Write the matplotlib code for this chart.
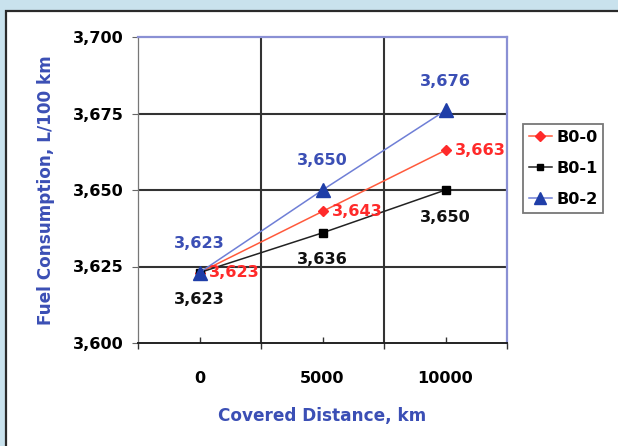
import matplotlib
matplotlib.use("Agg")
import matplotlib.pyplot as plt
from matplotlib.patches import Rectangle

plt.rcParams['font.family'] = ['DejaVu Sans']
plt.rcParams['font.weight'] = 'bold'
plt.rcParams['axes.labelweight'] = 'bold'

# covered distance, km (categories on the x axis)
distances = ['0', '5000', '10000']
# fuel consumption, L/100 km
b0_0 = [3.623, 3.643, 3.663]
b0_1 = [3.623, 3.636, 3.650]
b0_2 = [3.623, 3.650, 3.676]
series_names = ['B0-0', 'B0-1', 'B0-2']

y_ticks = [3.600, 3.625, 3.650, 3.675, 3.700]


def fmt(v):
    return f"{v:.3f}".replace('.', ',')


fig = plt.figure(figsize=(6.18, 4.46), dpi=100)
fig.patch.set_facecolor('#c9e2ed')
# white panel behind the chart
fig.patches.append(Rectangle((6 / 618, -0.05), 1.0, 1 - 11 / 446 + 0.05,
                             transform=fig.transFigure, facecolor='white',
                             edgecolor='#2a2a2a', linewidth=1.6, zorder=-5))

ax = fig.add_axes([138 / 618, 1 - 343 / 446, (507 - 138) / 618, (343 - 37) / 446])
ax.set_zorder(2)
ax.set_facecolor('white')

x = list(range(len(distances)))

red = '#ff5a3c'
blue_line = '#6f7fd6'
blue_mark = '#1f3ea8'
blue_text = '#3b4fb5'
num_size = 11.6

ax.plot(x, b0_0, color=red, lw=1.1, marker='D', ms=5.5, mfc='#ff2a2a', mec='#ff2a2a',
        label=series_names[0], zorder=4)
ax.plot(x, b0_1, color='#222222', lw=1.1, marker='s', ms=5.5, mfc='black', mec='black',
        label=series_names[1], zorder=4)
ax.plot(x, b0_2, color=blue_line, lw=1.1, marker='^', ms=10, mfc=blue_mark, mec=blue_mark,
        label=series_names[2], zorder=5)

for xi, v in zip(x, b0_2):
    ax.annotate(fmt(v), (xi, v), xytext=(0, 21), textcoords='offset points',
                ha='center', va='center', color=blue_text, fontsize=num_size, zorder=6)
for xi, v in zip(x, b0_0):
    ax.annotate(fmt(v), (xi, v), xytext=(7, 0), textcoords='offset points',
                ha='left', va='center', color='#ff2a2a', fontsize=num_size, zorder=6)
for xi, v in zip(x, b0_1):
    ax.annotate(fmt(v), (xi, v), xytext=(0, -19.5), textcoords='offset points',
                ha='center', va='center', color='#111111', fontsize=num_size, zorder=6)

ax.set_xlim(-0.5, len(distances) - 0.5)
ax.set_ylim(3.600, 3.700)
ax.set_yticks(y_ticks)
ax.set_yticklabels([fmt(v) for v in y_ticks])
ax.set_xticks(x)
ax.set_xticklabels(distances)
ax.set_xticks([i - 0.5 for i in range(len(distances) + 1)], minor=True)

# gridlines: horizontal at y ticks, vertical between categories
for v in y_ticks[1:-1]:
    ax.axhline(v, color='#333333', lw=1.5, zorder=1)
for b in [i + 0.5 for i in range(len(distances) - 1)]:
    ax.axvline(b, color='#333333', lw=1.5, zorder=1)

ax.tick_params(axis='y', direction='out', length=4, width=0.8, color='#666666',
               labelsize=num_size, pad=6)
ax.tick_params(axis='x', which='major', direction='in', length=4, width=1.0,
               color='#333333', labelsize=num_size, pad=20)
ax.tick_params(axis='x', which='minor', direction='out', length=4, width=1.0,
               color='#333333')

ax.spines['left'].set_color('#777777')
ax.spines['left'].set_linewidth(0.9)
ax.spines['bottom'].set_color('#222222')
ax.spines['bottom'].set_linewidth(1.4)
ax.spines['top'].set_color('#8a90d4')
ax.spines['top'].set_linewidth(1.6)
ax.spines['right'].set_color('#8a90d4')
ax.spines['right'].set_linewidth(1.6)

ax.set_ylabel('Fuel Consumption, L/100 km', color=blue_text, fontsize=12.2)
ax.set_xlabel('Covered Distance, km', color=blue_text, fontsize=12.2)
ax.yaxis.set_label_coords(-0.225, 0.5)
ax.xaxis.set_label_coords(0.5, -0.21)

leg = fig.legend(loc='upper left', bbox_to_anchor=(523 / 618, 1 - 124 / 446),
                 frameon=True, fancybox=False, fontsize=11.6, handlelength=1.45,
                 handletextpad=0.25, borderpad=0.35, labelspacing=1.0,
                 borderaxespad=0, markerscale=0.85)
leg.get_frame().set_edgecolor('#555555')
leg.get_frame().set_linewidth(1.3)

fig.savefig('out.png', dpi=100, facecolor=fig.get_facecolor())
